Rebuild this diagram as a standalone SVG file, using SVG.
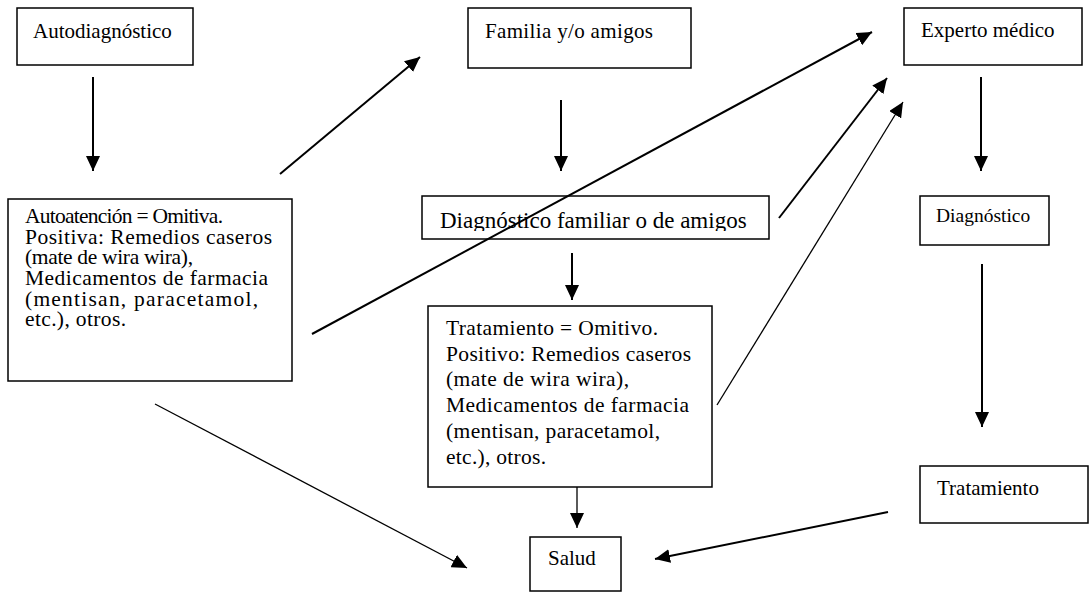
<svg xmlns="http://www.w3.org/2000/svg" width="1089" height="592" viewBox="0 0 1089 592">
<style>
.box{fill:#fff;stroke:#000;stroke-width:1.5}
.tx{font-family:'Liberation Serif','Times New Roman',Tinos,'DejaVu Serif',serif;font-size:21px;fill:#000}
.ml{font-size:21.5px}
.c{stroke:#000;fill:none;stroke-width:2}
.t{stroke-width:1.3}
</style>
<defs>
<marker id="ah" markerUnits="userSpaceOnUse" markerWidth="16" markerHeight="14" refX="15" refY="7" orient="auto">
<path d="M0,0 L15,7 L0,14 z" fill="#000"/>
</marker>
<clipPath id="clipDF"><rect x="422" y="196" width="347" height="35"/></clipPath>
</defs>
<rect width="1089" height="592" fill="#fff"/>
<g id="autodiagnostico">
<rect class="box" x="17" y="8" width="176" height="57"/>
<text class="tx" x="33" y="38">Autodiagnóstico</text>
</g>
<g id="familia">
<rect class="box" x="468" y="8" width="223" height="60"/>
<text class="tx" x="485" y="38" textLength="168">Familia y/o amigos</text>
</g>
<g id="experto">
<rect class="box" x="904" y="8" width="178" height="57"/>
<text class="tx" x="921" y="37">Experto médico</text>
</g>
<g id="autoatencion">
<rect class="box" x="8" y="199" width="284" height="182"/>
<text class="tx ml" x="25" y="223" textLength="198">Autoatención = Omitiva.</text>
<text class="tx ml" x="25" y="244" textLength="247">Positiva: Remedios caseros</text>
<text class="tx ml" x="25" y="264" textLength="168">(mate de wira wira),</text>
<text class="tx ml" x="25" y="285" textLength="243">Medicamentos de farmacia</text>
<text class="tx ml" x="25" y="306" textLength="233">(mentisan, paracetamol,</text>
<text class="tx ml" x="25" y="326" textLength="101">etc.), otros.</text>
</g>
<g id="diag-familiar">
<rect class="box" x="422" y="196" width="347" height="43"/>
<text class="tx" x="440" y="228" style="font-size:23px" clip-path="url(#clipDF)">Diagnóstico familiar o de amigos</text>
</g>
<g id="diagnostico">
<rect class="box" x="920" y="196" width="129" height="49"/>
<text class="tx" x="936" y="222" style="font-size:19.5px">Diagnóstico</text>
</g>
<g id="tratamiento-familiar">
<rect class="box" x="428" y="306" width="284" height="181"/>
<text class="tx ml" x="446" y="335" textLength="212">Tratamiento = Omitivo.</text>
<text class="tx ml" x="446" y="361" textLength="245">Positivo: Remedios caseros</text>
<text class="tx ml" x="446" y="386" textLength="183">(mate de wira wira),</text>
<text class="tx ml" x="446" y="412" textLength="243">Medicamentos de farmacia</text>
<text class="tx ml" x="446" y="438" textLength="214">(mentisan, paracetamol,</text>
<text class="tx ml" x="446" y="464" textLength="100">etc.), otros.</text>
</g>
<g id="tratamiento">
<rect class="box" x="920" y="466" width="168" height="57"/>
<text class="tx" x="937" y="495">Tratamiento</text>
</g>
<g id="salud">
<rect class="box" x="530" y="537" width="91" height="54"/>
<text class="tx" x="548" y="565">Salud</text>
</g>
<g id="connectors">
<line class="c" x1="93" y1="77" x2="93" y2="171" marker-end="url(#ah)"/>
<line class="c" x1="280" y1="174" x2="420" y2="57" marker-end="url(#ah)"/>
<line class="c" x1="312" y1="334" x2="872" y2="32" marker-end="url(#ah)"/>
<line class="c" x1="561" y1="100" x2="561" y2="171" marker-end="url(#ah)"/>
<line class="c" x1="572" y1="253" x2="572" y2="300" marker-end="url(#ah)"/>
<line class="c" x1="779" y1="218" x2="887" y2="78" marker-end="url(#ah)"/>
<line class="c t" x1="717" y1="405" x2="903" y2="102" marker-end="url(#ah)"/>
<line class="c" x1="981" y1="77" x2="981" y2="171" marker-end="url(#ah)"/>
<line class="c" x1="982" y1="264" x2="982" y2="427" marker-end="url(#ah)"/>
<line class="c t" x1="577" y1="487" x2="577" y2="528" marker-end="url(#ah)"/>
<line class="c t" x1="155" y1="404" x2="467" y2="568" marker-end="url(#ah)"/>
<line class="c" x1="888" y1="512" x2="655" y2="559" marker-end="url(#ah)"/>
</g>
</svg>
